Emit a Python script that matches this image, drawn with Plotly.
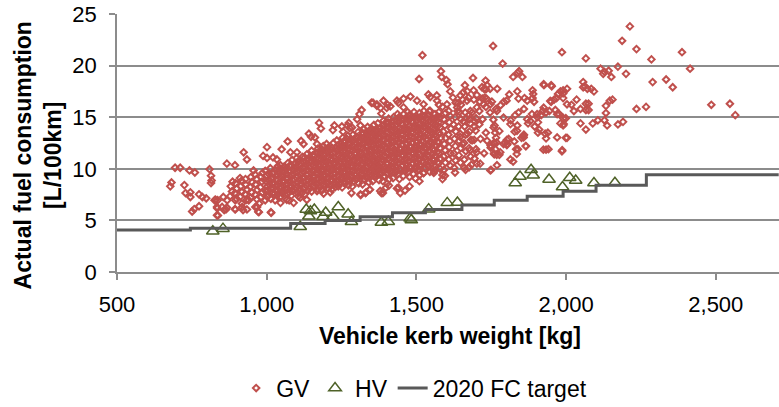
import plotly.graph_objects as go

# ---------------- GV (gasoline vehicles) ----------------
gv_weight_sparse = [
    694, 711, 742, 760, 809, 682, 678, 725, 729, 745,
    745, 774, 785, 798, 751, 758, 774, 814, 816, 814,
    829, 836, 834, 858, 834, 867, 894, 921, 968, 974,
    1014, 867, 894, 923, 934, 956, 988, 1001, 1021, 1034,
    1001, 1070, 1050, 1079, 1101, 1115, 1123, 1141, 1148, 1161,
    1175, 1181, 1168, 1226, 1221, 1255, 1270, 1277, 1302, 1310,
    1317, 1313, 1350, 1368, 1509, 1582, 1584, 1600, 1604, 1613,
    1689, 1662, 1656, 1647, 1691, 1731, 1736, 1720, 1702, 1823,
    1838, 1854, 1843, 1925, 1952, 1990, 1480, 1457, 1440, 1404,
    1380, 1355, 1540, 1546, 1568, 1575, 1587, 1622, 1631, 1649,
    1520, 1756, 1788, 1986, 2066, 2213, 2187, 2235, 2285, 2387,
    2414, 2334, 2356, 2289, 2173, 2200, 2115, 2128, 2142, 2151,
    2124, 2485, 2547, 2565, 2235, 2267, 2173, 2190, 2133, 2137,
    2128, 2106, 2089, 2155, 2146, 2133, 2066, 2075, 2066, 2075,
    2048, 2057, 2062, 2071, 2084, 2093, 2057, 2048, 2066, 2026,
    2035, 2018, 1986, 1999, 2003, 1933, 1924, 1981, 1990, 1999,
    1941, 1987, 1802, 1833, 1865, 1851, 1858, 1814, 1823, 1769,
    1749, 1702, 1676, 1660, 1558, 1587, 1497, 1440, 1388, 1402,
    1760, 1764, 1760, 1780, 1796, 1802, 1827, 1283, 1313, 1330,
    1344, 1379, 1408, 1435, 1446, 1462, 1477, 1510, 1524, 1564,
    1587, 1595, 1629, 1664, 1684, 1713, 1747, 1045, 1067, 1090,
    1112, 1134, 1168, 1190, 1212, 1015, 972, 962, 934, 918,
    895, 864, 837, 835, 851, 826, 855, 868, 895, 917,
    940, 975, 995, 1028, 1046, 1075, 1051, 1084, 1106, 1127,
    1229, 1314, 1332, 1345, 1383, 1398, 1888, 1890, 1888, 1893,
    1861, 1870, 1837, 1841, 1810, 1801, 1792, 1781, 1766, 1752,
    1734, 1726, 1746, 1770, 1926, 1950, 1981, 1990, 2003, 1973,
    1968, 1960, 1950, 1990, 1964, 1977, 1991, 1944, 1922, 1917,
    1933, 1904, 1906, 1895, 1910, 1930, 1939, 1933, 1906, 1870,
    1873, 1886, 1859, 1841, 1830, 1837, 1815, 1828, 1808, 1804,
    1839, 1866, 1859, 1763, 1766, 1759, 1748, 1768, 1777, 1670,
    1719, 1732, 1728, 1712, 1692, 1674, 1654, 1639, 1637, 1663,
    1686, 1710, 1732, 1746, 1721, 1699, 1677, 1657, 1694, 1710,
    1732, 1714, 1686, 1670, 1646, 1654, 1679, 1701, 1726, 1748,
    1759, 1768, 1777, 1761, 1757,
    1368, 1390, 1413, 1435, 1457, 1502, 1524, 1546, 1569, 1602,
    1636, 1669, 1680, 1702, 1724, 1747, 1769, 1791, 1814, 1836,
    1858, 1880, 1903, 1925, 1947, 1970, 1992, 2003, 1758, 1736,
    1791, 1835, 1970, 1401, 1383, 1251, 1274, 1285,
]
gv_fc_sparse = [
    10.1, 10.1, 9.84, 9.64, 9.96, 8.68, 8.3, 8.42, 7.65, 7.72,
    7.27, 7.53, 7.27, 7.14, 5.86, 6.1, 6.37, 9.33, 8.87, 8.62,
    7.0, 6.95, 6.3, 6.0, 5.5, 6.25, 6.1, 6.0, 6.3, 5.8,
    5.8, 10.5, 10.35, 11.6, 10.9, 9.84, 11.25, 11.05, 11.1, 10.9,
    12.1, 12.65, 11.9, 11.6, 11.6, 12.7, 12.4, 13.4, 13.1, 13.04,
    14.45, 13.9, 12.4, 14.2, 13.75, 13.6, 14.2, 13.95, 14.8, 15.3,
    15.7, 14.2, 16.4, 16.1, 18.7, 19.45, 18.9, 18.6, 18.2, 17.5,
    18.8, 18.1, 17.4, 17.1, 17.6, 18.55, 18.1, 16.8, 17.15, 18.9,
    19.3, 18.9, 19.45, 18.2, 18.0, 17.3, 17.0, 16.8, 16.4, 16.2,
    15.9, 16.4, 17.2, 16.95, 17.1, 16.2, 16.0, 16.9, 16.4, 16.2,
    21.0, 21.9, 20.2, 21.3, 20.7, 23.8, 22.4, 21.6, 20.6, 21.3,
    19.7, 18.65, 17.9, 18.4, 19.9, 19.2, 19.7, 19.4, 19.5, 18.9,
    19.2, 16.2, 16.3, 15.2, 15.8, 16.0, 14.3, 14.55, 15.4, 14.2,
    14.7, 14.7, 14.4, 16.7, 16.6, 16.1, 16.3, 16.3, 15.7, 15.7,
    15.8, 18.4, 18.0, 17.75, 17.75, 17.5, 17.9, 14.4, 13.8, 15.6,
    16.7, 16.2, 11.7, 13.0, 13.0, 11.85, 11.85, 14.4, 14.2, 14.9,
    11.9, 11.8, 12.3, 11.9, 12.2, 13.0, 13.2, 10.9, 10.7, 10.35,
    9.9, 10.5, 10.15, 10.1, 9.6, 9.4, 9.07, 8.17, 7.65, 8.56,
    12.5, 11.9, 11.4, 11.6, 12.5, 12.8, 12.65, 7.65, 7.53, 7.65,
    7.98, 7.85, 8.37, 8.1, 7.65, 7.9, 8.3, 8.8, 9.58, 9.9,
    9.0, 9.33, 9.64, 9.9, 10.4, 10.5, 9.84, 7.27, 7.0, 6.7,
    7.2, 7.0, 7.85, 7.6, 7.72, 5.73, 5.83, 6.3, 6.06, 6.3,
    6.06, 6.06, 5.48, 6.18, 6.3, 6.95, 7.27, 6.95, 6.95, 6.63,
    6.95, 6.63, 6.95, 6.95, 6.7, 6.95, 7.65, 7.9, 7.34, 7.53,
    8.23, 7.46, 7.72, 7.98, 7.65, 8.17, 17.6, 17.25, 16.85, 16.5,
    16.85, 16.6, 17.5, 16.8, 17.2, 16.6, 16.5, 16.15, 15.8, 16.5,
    16.8, 17.75, 17.75, 17.75, 18.1, 18.1, 17.5, 17.6, 17.75, 17.25,
    16.85, 16.7, 16.5, 16.85, 15.7, 15.3, 14.9, 15.6, 15.6, 15.2,
    15.45, 15.0, 14.5, 14.1, 13.8, 13.4, 13.5, 12.95, 13.5, 14.8,
    14.4, 15.3, 15.8, 15.45, 15.2, 14.2, 14.7, 13.6, 12.9, 12.4,
    11.9, 12.2, 13.3, 13.5, 13.0, 12.5, 12.25, 11.35, 11.35, 17.5,
    17.9, 17.7, 16.9, 16.5, 16.7, 16.9, 16.7, 16.35, 15.6, 15.45,
    15.45, 15.6, 16.0, 15.45, 14.8, 14.9, 14.8, 14.6, 14.1, 14.3,
    13.5, 12.9, 12.75, 13.4, 13.1, 12.4, 11.8, 11.6, 11.5, 12.05,
    11.5, 12.55, 13.65, 14.2, 14.75,
    16.25, 16.6, 16.05, 16.6, 15.95, 16.6, 16.25, 15.6, 16.6, 16.25,
    15.95, 16.6, 15.6, 15.95, 16.25, 16.25, 15.6, 14.96, 14.33, 13.68,
    13.04, 14.64, 15.29, 15.92, 16.57, 15.29, 14.33, 16.25, 14.0, 12.72,
    12.4, 11.44, 13.04, 15.9, 15.35, 14.1, 14.45, 14.0,
]

# dense core of the GV cloud, one line per weight column
gv_weight_core = [
    878, 884, 880, 886,
    899, 894, 900, 896,
    912, 917, 913, 916, 911,
    933, 928, 934, 930, 929,
    946, 950, 945, 951, 947,
    967, 962, 968, 963, 966, 961,
    980, 985, 979, 984, 981, 986,
    1001, 996, 1002, 997, 1000, 995,
    1014, 1019, 1013, 1018, 1015, 1020, 1012,
    1035, 1030, 1036, 1031, 1034, 1029, 1037,
    1048, 1053, 1047, 1052, 1049, 1054, 1046,
    1069, 1064, 1070, 1065, 1068, 1063, 1071,
    1082, 1087, 1081, 1086, 1083, 1088, 1080, 1085,
    1103, 1098, 1104, 1099, 1102, 1097, 1105, 1100,
    1116, 1121, 1115, 1120, 1117, 1122, 1114, 1119,
    1137, 1132, 1138, 1133, 1136, 1131, 1139, 1134,
    1150, 1155, 1149, 1154, 1151, 1156, 1148, 1153, 1150,
    1171, 1166, 1172, 1167, 1170, 1165, 1173, 1168, 1171,
    1184, 1189, 1183, 1188, 1185, 1190, 1182, 1187, 1184, 1189,
    1205, 1200, 1206, 1201, 1204, 1199, 1207, 1202, 1205, 1200,
    1218, 1223, 1217, 1222, 1219, 1224, 1216, 1221, 1218, 1223,
    1239, 1234, 1240, 1235, 1238, 1233, 1241, 1236, 1239, 1234,
    1252, 1257, 1251, 1256, 1253, 1258, 1250, 1255, 1252, 1257, 1254,
    1273, 1268, 1274, 1269, 1272, 1267, 1275, 1270, 1273, 1268, 1271,
    1286, 1291, 1285, 1290, 1287, 1292, 1284, 1289, 1286, 1291, 1288,
    1307, 1302, 1308, 1303, 1306, 1301, 1309, 1304, 1307, 1302, 1305,
    1320, 1325, 1319, 1324, 1321, 1326, 1318, 1323, 1320, 1325, 1319, 1324,
    1341, 1336, 1342, 1337, 1340, 1335, 1343, 1338, 1341, 1336, 1342, 1337,
    1354, 1359, 1353, 1358, 1355, 1360, 1352, 1357, 1354, 1359, 1353, 1358,
    1375, 1370, 1376, 1371, 1374, 1369, 1377, 1372, 1375, 1370, 1376, 1371,
    1388, 1393, 1387, 1392, 1389, 1394, 1386, 1391, 1388, 1393, 1387, 1392, 1390,
    1409, 1404, 1410, 1405, 1408, 1403, 1411, 1406, 1409, 1404, 1410, 1405, 1407,
    1422, 1427, 1421, 1426, 1423, 1428, 1420, 1425, 1422, 1427, 1421, 1426, 1424,
    1443, 1438, 1444, 1439, 1442, 1437, 1445, 1440, 1443, 1438, 1444, 1439, 1442, 1437,
    1456, 1461, 1455, 1460, 1457, 1462, 1454, 1459, 1456, 1461, 1455, 1460, 1458,
    1477, 1472, 1478, 1473, 1476, 1471, 1479, 1474, 1477, 1472, 1478, 1473, 1476, 1471,
    1490, 1495, 1489, 1494, 1491, 1496, 1488, 1493, 1490, 1495, 1489, 1494, 1492,
    1511, 1506, 1512, 1507, 1510, 1505, 1513, 1508, 1511, 1506, 1512, 1507, 1510,
    1524, 1529, 1523, 1528, 1525, 1530, 1522, 1527, 1524, 1529, 1523, 1528, 1525,
    1545, 1540, 1546, 1541, 1544, 1539, 1547, 1542, 1545, 1540, 1546, 1541, 1543,
    1558, 1563, 1557, 1562, 1559, 1564, 1556, 1561, 1558, 1563, 1557, 1562,
    1579, 1574, 1580, 1575, 1578, 1573, 1581, 1576, 1579, 1574, 1580, 1575,
    1592, 1597, 1591, 1596, 1593, 1598, 1590, 1595, 1592, 1597,
    1613, 1608, 1614, 1609, 1612, 1607, 1615, 1610, 1613, 1608,
    1626, 1631, 1625, 1630, 1627, 1632, 1624, 1629,
    1647, 1642, 1648, 1643, 1646, 1641, 1649, 1644,
    1660, 1665, 1659, 1664, 1661, 1666,
    1681, 1676, 1682, 1677, 1680, 1675,
    1694, 1699, 1693, 1698, 1695,
]
gv_fc_core = [
    7.35, 7.8, 8.3, 8.75,
    7.1, 7.65, 8.1, 8.6,
    7.3, 7.75, 8.3, 8.85, 9.1,
    7.0, 7.55, 8.0, 8.45, 9.0,
    7.2, 7.7, 8.25, 8.7, 9.2,
    7.05, 7.5, 7.95, 8.5, 9.0, 9.45,
    7.25, 7.7, 8.2, 8.75, 9.2, 9.6,
    7.3, 7.85, 8.3, 8.8, 9.35, 9.8,
    7.1, 7.6, 8.1, 8.6, 9.05, 9.6, 10.05,
    7.45, 7.9, 8.4, 8.95, 9.4, 9.9, 10.25,
    7.3, 7.8, 8.3, 8.8, 9.3, 9.75, 10.35,
    7.55, 8.0, 8.5, 9.05, 9.5, 10.0, 10.55,
    7.4, 7.9, 8.4, 8.9, 9.4, 9.95, 10.4, 10.85,
    7.7, 8.2, 8.7, 9.15, 9.7, 10.2, 10.7, 11.05,
    7.6, 8.1, 8.6, 9.1, 9.6, 10.1, 10.6, 11.15,
    7.9, 8.4, 8.9, 9.4, 9.9, 10.4, 10.95, 11.4,
    7.8, 8.3, 8.8, 9.3, 9.8, 10.3, 10.8, 11.3, 11.75,
    8.0, 8.5, 9.0, 9.5, 10.0, 10.5, 11.0, 11.5, 11.95,
    7.9, 8.4, 8.9, 9.4, 9.9, 10.4, 10.9, 11.4, 11.9, 12.2,
    8.1, 8.6, 9.1, 9.6, 10.1, 10.6, 11.1, 11.6, 12.05, 12.4,
    8.0, 8.5, 9.0, 9.5, 10.0, 10.5, 11.0, 11.5, 12.0, 12.5,
    8.3, 8.8, 9.3, 9.8, 10.3, 10.8, 11.3, 11.8, 12.3, 12.75,
    8.2, 8.7, 9.2, 9.7, 10.2, 10.7, 11.2, 11.7, 12.2, 12.65, 13.0,
    8.4, 8.9, 9.4, 9.9, 10.4, 10.9, 11.4, 11.9, 12.4, 12.9, 13.2,
    8.3, 8.8, 9.3, 9.8, 10.3, 10.8, 11.3, 11.8, 12.3, 12.8, 13.3,
    8.6, 9.1, 9.6, 10.1, 10.6, 11.1, 11.6, 12.1, 12.6, 13.1, 13.55,
    8.5, 9.0, 9.5, 10.0, 10.5, 11.0, 11.5, 12.0, 12.5, 13.0, 13.5, 13.85,
    8.7, 9.2, 9.7, 10.2, 10.7, 11.2, 11.7, 12.2, 12.7, 13.2, 13.7, 14.05,
    8.8, 9.3, 9.8, 10.3, 10.8, 11.3, 11.8, 12.3, 12.8, 13.3, 13.8, 14.25,
    8.9, 9.4, 9.9, 10.4, 10.9, 11.4, 11.9, 12.4, 12.9, 13.4, 13.9, 14.4,
    8.8, 9.3, 9.8, 10.3, 10.8, 11.3, 11.8, 12.3, 12.8, 13.3, 13.8, 14.3, 14.65,
    9.0, 9.5, 10.0, 10.5, 11.0, 11.5, 12.0, 12.5, 13.0, 13.5, 14.0, 14.5, 14.85,
    9.1, 9.6, 10.1, 10.6, 11.1, 11.6, 12.1, 12.6, 13.1, 13.6, 14.1, 14.6, 15.0,
    9.0, 9.5, 10.0, 10.5, 11.0, 11.5, 12.0, 12.5, 13.0, 13.5, 14.0, 14.5, 15.0, 15.3,
    9.3, 9.8, 10.3, 10.8, 11.3, 11.8, 12.3, 12.8, 13.3, 13.8, 14.3, 14.8, 15.3,
    9.2, 9.7, 10.2, 10.7, 11.2, 11.7, 12.2, 12.7, 13.2, 13.7, 14.2, 14.7, 15.2, 15.5,
    9.5, 10.0, 10.5, 11.0, 11.5, 12.0, 12.5, 13.0, 13.5, 14.0, 14.5, 15.0, 15.5,
    9.4, 9.9, 10.4, 10.9, 11.4, 11.9, 12.4, 12.9, 13.4, 13.9, 14.4, 14.9, 15.4,
    9.6, 10.1, 10.6, 11.1, 11.6, 12.1, 12.6, 13.1, 13.6, 14.1, 14.6, 15.1, 15.6,
    9.7, 10.2, 10.7, 11.2, 11.7, 12.2, 12.7, 13.2, 13.7, 14.2, 14.7, 15.2, 15.6,
    9.8, 10.3, 10.8, 11.3, 11.8, 12.3, 12.8, 13.3, 13.8, 14.3, 14.8, 15.3,
    10.0, 10.5, 11.0, 11.5, 12.0, 12.5, 13.0, 13.5, 14.0, 14.5, 15.0, 15.5,
    9.9, 10.6, 11.2, 11.8, 12.4, 13.0, 13.6, 14.2, 14.8, 15.4,
    10.3, 10.9, 11.5, 12.1, 12.7, 13.3, 13.9, 14.5, 15.1, 15.6,
    10.1, 10.8, 11.5, 12.2, 12.9, 13.6, 14.3, 15.0,
    10.6, 11.3, 12.0, 12.7, 13.4, 14.1, 14.8, 15.5,
    10.9, 11.7, 12.5, 13.3, 14.1, 14.9,
    11.2, 12.0, 12.8, 13.6, 14.4, 15.2,
    11.0, 11.9, 12.8, 13.7, 14.6,
]

# second, interleaved layer of the densest part of the cloud
gv_weight_core2 = [
    1008, 1004, 1010, 1006, 1009,
    1027, 1023, 1026, 1022, 1025,
    1040, 1044, 1041, 1045, 1039, 1043,
    1061, 1057, 1060, 1056, 1062, 1058,
    1074, 1078, 1075, 1079, 1073, 1077,
    1095, 1091, 1094, 1090, 1096, 1092,
    1108, 1112, 1109, 1113, 1107, 1111, 1110,
    1129, 1125, 1128, 1124, 1130, 1126, 1127,
    1142, 1146, 1143, 1147, 1141, 1145, 1144,
    1163, 1159, 1162, 1158, 1164, 1160, 1161,
    1176, 1180, 1177, 1181, 1175, 1179, 1178, 1176,
    1197, 1193, 1196, 1192, 1198, 1194, 1195, 1197,
    1210, 1214, 1211, 1215, 1209, 1213, 1212, 1210,
    1231, 1227, 1230, 1226, 1232, 1228, 1229, 1231,
    1244, 1248, 1245, 1249, 1243, 1247, 1246, 1244, 1248,
    1265, 1261, 1264, 1260, 1266, 1262, 1263, 1265, 1261,
    1278, 1282, 1279, 1283, 1277, 1281, 1280, 1278, 1282,
    1299, 1295, 1298, 1294, 1300, 1296, 1297, 1299, 1295,
    1312, 1316, 1313, 1317, 1311, 1315, 1314, 1312, 1316,
    1333, 1329, 1332, 1328, 1334, 1330, 1331, 1333, 1329, 1332,
    1346, 1350, 1347, 1351, 1345, 1349, 1348, 1346, 1350, 1347,
    1367, 1363, 1366, 1362, 1368, 1364, 1365, 1367, 1363, 1366,
    1380, 1384, 1381, 1385, 1379, 1383, 1382, 1380, 1384, 1381,
    1401, 1397, 1400, 1396, 1402, 1398, 1399, 1401, 1397, 1400, 1398,
    1414, 1418, 1415, 1419, 1413, 1417, 1416, 1414, 1418, 1415, 1417,
    1435, 1431, 1434, 1430, 1436, 1432, 1433, 1435, 1431, 1434, 1432,
    1448, 1452, 1449, 1453, 1447, 1451, 1450, 1448, 1452, 1449, 1451,
    1469, 1465, 1468, 1464, 1470, 1466, 1467, 1469, 1465, 1468, 1466,
    1482, 1486, 1483, 1487, 1481, 1485, 1484, 1482, 1486, 1483, 1485,
    1503, 1499, 1502, 1498, 1504, 1500, 1501, 1503, 1499, 1502, 1500,
    1516, 1520, 1517, 1521, 1515, 1519, 1518, 1516, 1520, 1517, 1519,
    1537, 1533, 1536, 1532, 1538, 1534, 1535, 1537, 1533, 1536,
    1550, 1554, 1551, 1555, 1549, 1553, 1552, 1550, 1554, 1551,
    1571, 1567, 1570, 1566, 1572, 1568, 1569, 1571, 1567, 1570,
]
gv_fc_core2 = [
    7.45, 7.95, 8.45, 8.95, 9.45,
    7.6, 8.1, 8.6, 9.1, 9.6,
    7.65, 8.15, 8.65, 9.15, 9.65, 10.0,
    7.8, 8.3, 8.8, 9.3, 9.8, 10.2,
    7.75, 8.25, 8.75, 9.25, 9.75, 10.25,
    7.95, 8.45, 8.95, 9.45, 9.95, 10.45,
    7.95, 8.45, 8.95, 9.45, 9.9, 10.4, 10.85,
    8.15, 8.65, 9.15, 9.65, 10.15, 10.65, 11.1,
    8.15, 8.65, 9.15, 9.65, 10.15, 10.65, 11.15,
    8.25, 8.75, 9.25, 9.75, 10.25, 10.75, 11.25,
    8.35, 8.85, 9.35, 9.85, 10.35, 10.85, 11.35, 11.7,
    8.35, 8.85, 9.35, 9.85, 10.35, 10.85, 11.35, 11.85,
    8.45, 8.95, 9.45, 9.95, 10.45, 10.95, 11.45, 11.95,
    8.55, 9.05, 9.55, 10.05, 10.55, 11.05, 11.55, 12.05,
    8.65, 9.15, 9.65, 10.15, 10.65, 11.15, 11.65, 12.15, 12.5,
    8.65, 9.15, 9.65, 10.15, 10.65, 11.15, 11.65, 12.15, 12.65,
    8.85, 9.35, 9.85, 10.35, 10.85, 11.35, 11.85, 12.35, 12.85,
    8.95, 9.45, 9.95, 10.45, 10.95, 11.45, 11.95, 12.45, 12.95,
    9.05, 9.55, 10.05, 10.55, 11.05, 11.55, 12.05, 12.55, 13.05,
    9.15, 9.65, 10.15, 10.65, 11.15, 11.65, 12.15, 12.65, 13.15, 13.55,
    9.25, 9.75, 10.25, 10.75, 11.25, 11.75, 12.25, 12.75, 13.25, 13.75,
    9.35, 9.85, 10.35, 10.85, 11.35, 11.85, 12.35, 12.85, 13.35, 13.85,
    9.45, 9.95, 10.45, 10.95, 11.45, 11.95, 12.45, 12.95, 13.45, 13.95,
    9.55, 10.05, 10.55, 11.05, 11.55, 12.05, 12.55, 13.05, 13.55, 14.05, 14.45,
    9.65, 10.15, 10.65, 11.15, 11.65, 12.15, 12.65, 13.15, 13.65, 14.15, 14.6,
    9.75, 10.25, 10.75, 11.25, 11.75, 12.25, 12.75, 13.25, 13.75, 14.25, 14.75,
    9.85, 10.35, 10.85, 11.35, 11.85, 12.35, 12.85, 13.35, 13.85, 14.35, 14.85,
    9.95, 10.45, 10.95, 11.45, 11.95, 12.45, 12.95, 13.45, 13.95, 14.45, 14.95,
    10.05, 10.55, 11.05, 11.55, 12.05, 12.55, 13.05, 13.55, 14.05, 14.55, 15.05,
    10.15, 10.65, 11.15, 11.65, 12.15, 12.65, 13.15, 13.65, 14.15, 14.65, 15.1,
    10.25, 10.75, 11.25, 11.75, 12.25, 12.75, 13.25, 13.75, 14.25, 14.75, 15.2,
    10.35, 10.85, 11.35, 11.85, 12.35, 12.85, 13.35, 13.85, 14.35, 14.85,
    10.45, 10.95, 11.45, 11.95, 12.45, 12.95, 13.45, 13.95, 14.45, 14.95,
    10.65, 11.15, 11.65, 12.15, 12.65, 13.15, 13.65, 14.15, 14.65, 15.1,
]

# ---------------- HV (hybrid vehicles) ----------------
hv_weight = [820, 854, 1112, 1132, 1141, 1146, 1159, 1188, 1197, 1221,
             1239, 1272, 1283, 1383, 1406, 1479, 1483, 1541, 1603, 1637,
             1830, 1846, 1883, 1890, 1943, 1988, 2012, 2032, 2093, 2163]
hv_fc = [3.95, 4.2, 4.38, 6.06, 5.4, 5.9, 6.05, 5.35, 5.77, 5.35,
         6.3, 5.6, 4.87, 4.8, 4.87, 5.2, 5.03, 6.09, 6.7, 6.73,
         8.62, 9.26, 9.9, 9.38, 8.97, 8.23, 9.13, 8.87, 8.62, 8.65]

# ---------------- 2020 FC target (step line) ----------------
target_weight = [500, 745, 1080, 1195, 1312, 1420, 1530, 1652, 1760, 1870, 1990, 2100, 2268, 2710]
target_fc = [4.07, 4.25, 4.7, 5.0, 5.35, 5.75, 6.05, 6.5, 6.95, 7.34, 7.82, 8.4, 9.42, 9.42]

x_tick_values = [500, 1000, 1500, 2000, 2500]
x_tick_labels = ["500", "1,000", "1,500", "2,000", "2,500"]
y_tick_values = [0, 5, 10, 15, 20, 25]

n_s = min(len(gv_weight_sparse), len(gv_fc_sparse))
n_c = min(len(gv_weight_core), len(gv_fc_core))
n_c2 = min(len(gv_weight_core2), len(gv_fc_core2))
gv_weight = gv_weight_sparse[:n_s] + gv_weight_core[:n_c] + gv_weight_core2[:n_c2]
gv_fc = gv_fc_sparse[:n_s] + gv_fc_core[:n_c] + gv_fc_core2[:n_c2]

FONT = "Liberation Sans, Arial, Helvetica, sans-serif"
GRID = "#8c8c8c"

fig = go.Figure()
fig.add_trace(go.Scatter(
    x=gv_weight, y=gv_fc, mode="markers", name="GV",
    marker=dict(symbol="diamond-open", size=5, color="#C0504D",
                line=dict(width=2, color="#C0504D")),
))
fig.add_trace(go.Scatter(
    x=hv_weight, y=hv_fc, mode="markers", name="HV",
    marker=dict(symbol="triangle-up-open", size=11, color="#4F6228",
                line=dict(width=1.5, color="#4F6228")),
))
fig.add_trace(go.Scatter(
    x=target_weight, y=target_fc, mode="lines", name="2020 FC target",
    line=dict(color="#595959", width=3, shape="hv"),
))

fig.update_layout(
    width=779, height=407,
    margin=dict(l=117, r=0, t=14, b=135, autoexpand=False),
    paper_bgcolor="white", plot_bgcolor="white",
    font=dict(family=FONT, color="black", size=22),
    showlegend=True,
    legend=dict(orientation="h", x=0.18, xanchor="left", y=-0.45, yanchor="middle",
                font=dict(size=23, family=FONT), bgcolor="rgba(0,0,0,0)",
                itemsizing="trace"),
    xaxis=dict(range=[500, 2711], tickvals=x_tick_values, ticktext=x_tick_labels,
               showgrid=False, zeroline=False, showline=True, linecolor=GRID, linewidth=1.5,
               ticks="outside", ticklen=6, tickwidth=1.5, tickcolor=GRID,
               tickfont=dict(size=22), ticklabelstandoff=6),
    yaxis=dict(range=[0, 25], tickvals=y_tick_values,
               showgrid=True, gridcolor=GRID, gridwidth=1.5, zeroline=False,
               showline=True, linecolor=GRID, linewidth=1.5,
               ticks="outside", ticklen=6, tickwidth=1.5, tickcolor=GRID,
               tickfont=dict(size=22), ticklabelstandoff=8),
    annotations=[
        dict(text="<b>Vehicle kerb weight [kg]</b>", xref="paper", yref="paper",
             x=0.503, y=-0.248, xanchor="center", yanchor="middle", showarrow=False,
             font=dict(size=23, family=FONT)),
        dict(text="<b>Actual fuel consumption<br>[L/100km]</b>", xref="paper", yref="paper",
             x=-0.12, y=0.45, xanchor="center", yanchor="middle", showarrow=False,
             textangle=-90, font=dict(size=23, family=FONT)),
    ],
)

fig.write_html("out.html")
